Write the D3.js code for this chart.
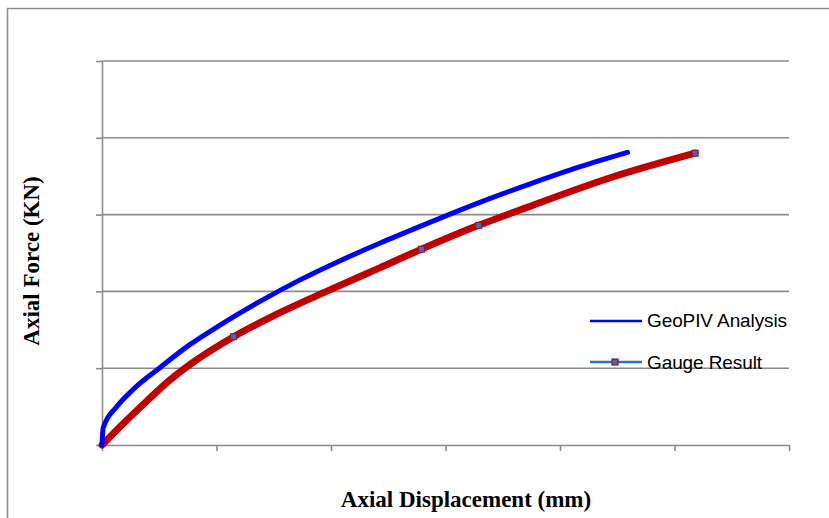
<!DOCTYPE html>
<html lang="en">
<head>
<meta charset="utf-8">
<title>Axial Force vs Displacement</title>
<style>
  body { margin: 0; background: #fff; }
  .grid line { stroke: #8c8c8c; stroke-width: 1.6px; }
  .axis path, .axis line { stroke: #8c8c8c; stroke-width: 1.6px; }
  .title { font-family: "Liberation Serif", "Times New Roman", serif; font-weight: bold; font-size: 23px; fill: #000; }
  .legend text { font-family: "Liberation Sans", Arial, sans-serif; font-size: 19px; fill: #000; letter-spacing: -0.1px; }
</style>
</head>
<body>
<svg id="chart" width="829" height="518"></svg>
<script src="https://d3js.org/d3.v7.min.js"></script>
<script>
// values (axis units: grid steps, no tick labels shown)
var xTicks = [0, 1, 2, 3, 4, 5, 6];
var yTicks = [0, 1, 2, 3, 4, 5];

var geoX = [0, 0.01, 0.13, 0.27, 0.50, 0.77, 1.03, 1.38, 1.73, 2.08, 2.43, 2.80, 3.30, 3.74, 4.17, 4.59];
var geoY = [0, 0.22, 0.50, 0.72, 1.00, 1.31, 1.56, 1.87, 2.15, 2.40, 2.63, 2.86, 3.16, 3.40, 3.62, 3.81];

var gaugeX = [0, 0.20, 0.39, 0.58, 0.77, 1.15, 1.55, 1.99, 2.43, 2.79, 3.29, 3.65, 4.46, 5.18];
var gaugeY = [0, 0.30, 0.57, 0.83, 1.05, 1.41, 1.72, 2.02, 2.31, 2.55, 2.86, 3.06, 3.49, 3.80];
var gaugeMarks = [5, 9, 10, 13]; // indices where the small square markers show

var svg = d3.select("#chart");
var plotL = 102, plotR = 789, plotT = 61, plotB = 445;

var x = d3.scaleLinear().domain([0, 6]).range([plotL, plotR]);
var y = d3.scaleLinear().domain([0, 5]).range([plotB, plotT]);

// outer frame
svg.append("path")
  .attr("d", "M7.5,518 L7.5,8.5 L829,8.5")
  .attr("fill", "none")
  .attr("stroke", "#8c8c8c")
  .attr("stroke-width", 1.6);

// horizontal gridlines
svg.append("g").attr("class", "grid")
  .selectAll("line")
  .data(yTicks.slice(1))
  .enter().append("line")
  .attr("x1", plotL).attr("x2", plotR)
  .attr("y1", function(d) { return y(d); })
  .attr("y2", function(d) { return y(d); });

// axes without labels
svg.append("g").attr("class", "axis")
  .attr("transform", "translate(0," + plotB + ")")
  .call(d3.axisBottom(x).tickValues(xTicks).tickSize(6).tickSizeOuter(0).tickFormat(""));

svg.append("g").attr("class", "axis")
  .attr("transform", "translate(" + plotL + ",0)")
  .call(d3.axisLeft(y).tickValues(yTicks).tickSize(6).tickSizeOuter(0).tickFormat(""));

var line = d3.line()
  .x(function(d) { return x(d[0]); })
  .y(function(d) { return y(d[1]); })
  .curve(d3.curveMonotoneX);

var gauge = d3.zip(gaugeX, gaugeY);
var geo = d3.zip(geoX, geoY);

svg.append("path")
  .datum(gauge)
  .attr("fill", "none")
  .attr("stroke", "#c00000")
  .attr("stroke-width", 7)
  .attr("stroke-linecap", "round")
  .attr("d", line);

svg.append("g").selectAll("rect")
  .data(gaugeMarks.map(function(i) { return gauge[i]; }))
  .enter().append("rect")
  .attr("x", function(d) { return x(d[0]) - 3; })
  .attr("y", function(d) { return y(d[1]) - 3; })
  .attr("width", 6).attr("height", 6)
  .attr("fill", "#1f78c8")
  .attr("stroke", "#c00000")
  .attr("stroke-width", 1);

svg.append("path")
  .datum(geo)
  .attr("fill", "none")
  .attr("stroke", "#0000ff")
  .attr("stroke-width", 5)
  .attr("stroke-linecap", "round")
  .attr("d", line);

// axis titles
svg.append("text")
  .attr("class", "title")
  .attr("x", 466).attr("y", 507)
  .attr("text-anchor", "middle")
  .text("Axial Displacement (mm)");

svg.append("text")
  .attr("class", "title")
  .attr("transform", "translate(39,261) rotate(-90)")
  .attr("text-anchor", "middle")
  .text("Axial Force (KN)");

// legend
var legend = svg.append("g").attr("class", "legend");
legend.append("line")
  .attr("x1", 590).attr("x2", 642).attr("y1", 321).attr("y2", 321)
  .attr("stroke", "#0000ff").attr("stroke-width", 2.5);
legend.append("text").attr("x", 647).attr("y", 327).text("GeoPIV Analysis");

legend.append("line")
  .attr("x1", 590).attr("x2", 642).attr("y1", 362).attr("y2", 362)
  .attr("stroke", "#1f78c8").attr("stroke-width", 2.5);
legend.append("rect")
  .attr("x", 612).attr("y", 359).attr("width", 6).attr("height", 6)
  .attr("fill", "#1f78c8").attr("stroke", "#c00000").attr("stroke-width", 1.2);
legend.append("text").attr("x", 647).attr("y", 369).text("Gauge Result");
</script>
</body>
</html>
